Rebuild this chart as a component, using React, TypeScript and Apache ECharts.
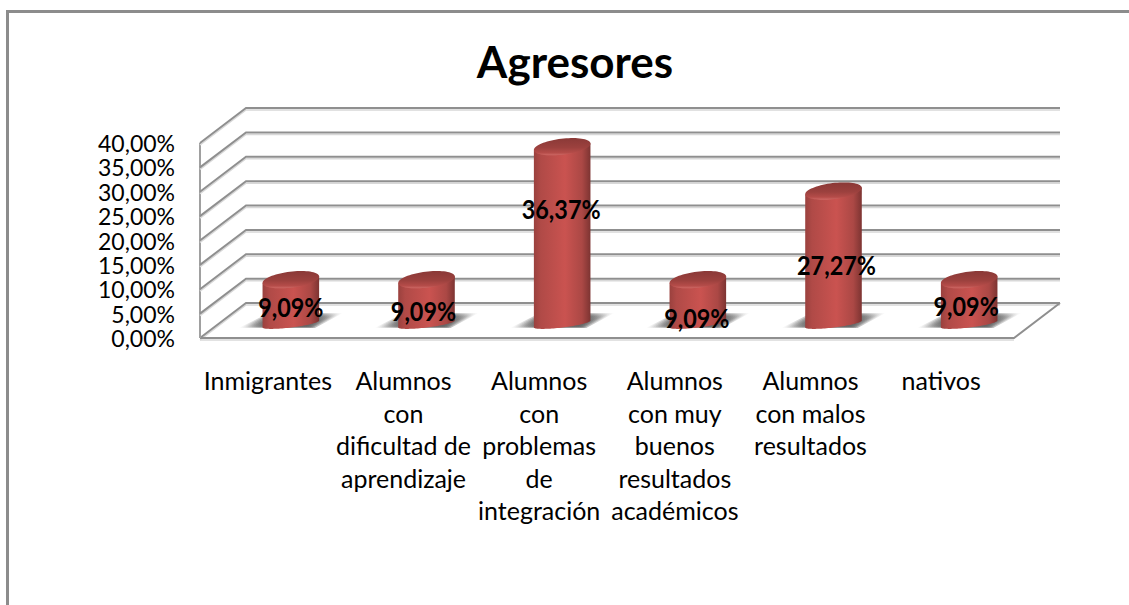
import React, { useEffect, useRef } from "react";
import * as echarts from "echarts";

const titleText = "Agresores";
const categories = [
  "Inmigrantes",
  "Alumnos\ncon\ndificultad de\naprendizaje",
  "Alumnos\ncon\nproblemas\nde\nintegración",
  "Alumnos\ncon muy\nbuenos\nresultados\nacadémicos",
  "Alumnos\ncon malos\nresultados",
  "nativos",
];
const values = [9.09, 9.09, 36.37, 9.09, 27.27, 9.09];
const valueLabels = ["9,09%", "9,09%", "36,37%", "9,09%", "27,27%", "9,09%"];
const yTicks = [0, 5, 10, 15, 20, 25, 30, 35, 40];

const FONT = "Lato, Carlito, sans-serif";
const DEPTH_X = 46;
const DEPTH_Y = 35;
const BAR_SHIFT_X = 23;
const BAR_SHIFT_Y = 14;
const RX = 28.5;
const RY_TOP = 8;
const RY_BASE = 3.5;
const TILT = (-7 * Math.PI) / 180;
const labelNudge = [
  [0, 13],
  [-3, 17],
  [-1, 48],
  [-1, 24],
  [3, 60],
  [-3, 12],
];

function ell(cx: number, cy: number, t: number, ry: number): number[] {
  const c = Math.cos(t) * RX;
  const s = Math.sin(t) * ry;
  return [cx + c * Math.cos(TILT) - s * Math.sin(TILT), cy + c * Math.sin(TILT) + s * Math.cos(TILT)];
}

function arcPoints(cx: number, cy: number, from: number, to: number, ry: number, n = 48): number[][] {
  const out: number[][] = [];
  for (let i = 0; i <= n; i++) out.push(ell(cx, cy, from + ((to - from) * i) / n, ry));
  return out;
}

function renderWall(params: any, api: any) {
  const v = api.value(1);
  const cs = params.coordSys;
  const y = api.coord([0, v])[1];
  const left = cs.x;
  const right = cs.x + cs.width;
  const line = (pts: number[][], stroke: string, w: number) => ({
    type: "polyline",
    shape: { points: pts },
    style: { stroke, lineWidth: w, fill: "none" },
  });
  const main = [
    [left, y],
    [left + DEPTH_X, y - DEPTH_Y],
    [right + DEPTH_X, y - DEPTH_Y],
  ];
  const soft = main.map(([a, b]) => [a, b + 2]);
  const children: any[] = [line(soft, "#d8d8d8", 1.5), line(main, "#8f8f8f", 2)];
  if (v === 0) {
    children.push(
      line([[left, y + 2], [right, y + 2]], "#d8d8d8", 1.5),
      line([[left, y], [right, y], [right + DEPTH_X, y - DEPTH_Y]], "#8f8f8f", 2),
    );
    children.push(line([[left, y], [left, cs.y]], "#a0a0a0", 2));
  }
  return { type: "group", children };
}

function renderCylinder(params: any, api: any) {
  const i = api.value(0);
  const v = api.value(1);
  const base = api.coord([i, 0]);
  const top = api.coord([i, v]);
  const cx = base[0] + BAR_SHIFT_X;
  const by = base[1] - BAR_SHIFT_Y;
  const ty = top[1] - BAR_SHIFT_Y;
  const shadows = [0, 1, 2, 3, 4].map((k) => ({
    type: "polygon",
    shape: {
      points: [
        [cx - 52 + k * 3, by + 4 - k * 0.4],
        [cx - 22 + k * 2, by - 11 + k * 0.8],
        [cx + 52 - k * 3, by - 11 + k * 0.8],
        [cx + 24 - k * 2, by + 4 - k * 0.4],
      ],
    },
    style: {
      fill: new echarts.graphic.LinearGradient(0, 0, 1, 0, [
        { offset: 0, color: "rgba(95,95,95,0)" },
        { offset: 0.3, color: "rgba(95,95,95,0.48)" },
        { offset: 0.7, color: "rgba(95,95,95,0.48)" },
        { offset: 1, color: "rgba(95,95,95,0)" },
      ]),
    },
  }));
  const body = [...arcPoints(cx, by, Math.PI, 0, RY_BASE)];
  body.push(ell(cx, ty, 0, RY_TOP), ell(cx, ty, Math.PI, RY_TOP));
  return {
    type: "group",
    children: [
      ...shadows,
      {
        type: "polygon",
        shape: { points: body },
        style: {
          fill: new echarts.graphic.LinearGradient(0, 0, 1, 0, [
            { offset: 0, color: "#9a413e" },
            { offset: 0.12, color: "#b04a47" },
            { offset: 0.55, color: "#ca5350" },
            { offset: 0.85, color: "#ab4845" },
            { offset: 1, color: "#7d3432" },
          ]),
        },
      },
      {
        type: "polygon",
        shape: { points: arcPoints(cx, ty, 0, Math.PI * 2, RY_TOP, 72) },
        style: {
          fill: new echarts.graphic.LinearGradient(0, 0, 0, 1, [
            { offset: 0, color: "#8a3937" },
            { offset: 0.55, color: "#9c413e" },
            { offset: 0.85, color: "#b54c49" },
            { offset: 1, color: "#cf6a66" },
          ]),
        },
      },
    ],
  };
}

function renderLabel(params: any, api: any) {
  const i = api.value(0);
  const p = api.coord([i, api.value(1)]);
  const n = labelNudge[i];
  return {
    type: "text",
    x: p[0] + BAR_SHIFT_X + n[0],
    y: p[1] + n[1],
    scaleX: 0.9,
    style: {
      text: valueLabels[i],
      fill: "#000",
      font: `bold 26px ${FONT}`,
      align: "center",
      verticalAlign: "middle",
    },
  };
}

export default function App() {
  const ref = useRef<HTMLDivElement>(null);
  useEffect(() => {
    const chart = echarts.init(ref.current!, null, { renderer: "svg" });
    const points = values.map((v, i) => [i, v]);
    chart.setOption({
      animation: false,
      backgroundColor: "#fff",
      textStyle: { fontFamily: FONT },
      title: {
        text: titleText,
        left: 570,
        top: 34,
        textAlign: "center",
        textStyle: { fontFamily: FONT, fontWeight: "bold", fontSize: 44, color: "#000" },
      },
      grid: { left: 200, top: 143, width: 814, height: 195 },
      xAxis: {
        type: "category",
        data: categories,
        axisLine: { show: false },
        axisTick: { show: false },
        splitLine: { show: false },
        axisLabel: {
          interval: 0,
          margin: 26,
          color: "#000",
          fontFamily: FONT,
          fontSize: 25,
          lineHeight: 32.5,
          align: "center",
          verticalAlign: "top",
          formatter: (v: string) => (v === "nativos" ? `{last|${v}}` : v),
          rich: {
            last: {
              padding: [0, 10, 0, 0],
              color: "#000",
              fontFamily: FONT,
              fontSize: 25,
              lineHeight: 32.5,
            },
          },
        },
      },
      yAxis: {
        type: "value",
        min: 0,
        max: 40,
        interval: 5,
        axisLine: { show: false },
        axisTick: { show: false },
        splitLine: { show: false },
        axisLabel: {
          margin: 25,
          color: "#000",
          fontFamily: FONT,
          fontSize: 23,
          lineHeight: 22,
          formatter: (v: number) => v.toFixed(2).replace(".", ",") + "%",
        },
      },
      graphic: [
        { type: "line", shape: { x1: 7.5, y1: 11, x2: 7.5, y2: 605 }, style: { stroke: "#8c8c8c", lineWidth: 3 } },
        { type: "line", shape: { x1: 6, y1: 11.5, x2: 1129, y2: 11.5 }, style: { stroke: "#8c8c8c", lineWidth: 3 } },
      ],
      series: [
        {
          type: "custom",
          coordinateSystem: "cartesian2d",
          data: yTicks.map((v) => [0, v]),
          renderItem: renderWall,
          encode: { x: 0, y: 1 },
          z: 1,
          silent: true,
        },
        {
          type: "custom",
          coordinateSystem: "cartesian2d",
          data: points,
          renderItem: renderCylinder,
          encode: { x: 0, y: 1 },
          z: 2,
          silent: true,
        },
        {
          type: "custom",
          coordinateSystem: "cartesian2d",
          data: points,
          renderItem: renderLabel,
          encode: { x: 0, y: 1 },
          z: 3,
          silent: true,
        },
      ],
    });
    return () => chart.dispose();
  }, []);
  return <div ref={ref} style={{ position: "fixed", left: 0, top: 0, width: 1129, height: 605 }} />;
}
